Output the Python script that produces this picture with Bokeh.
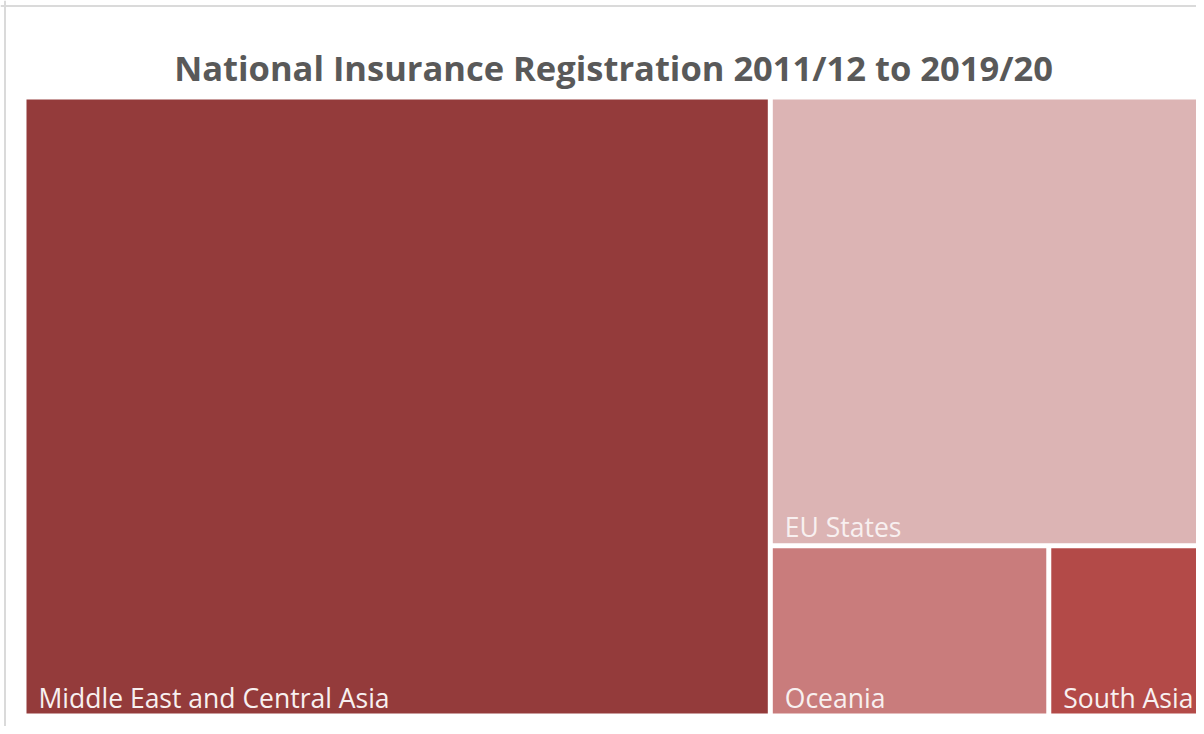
from bokeh.plotting import figure
from bokeh.models import Range1d, Span, ColumnDataSource
from bokeh.core.properties import value
from bokeh.embed import file_html
from bokeh.resources import INLINE

# ---- data ----
regions = ["Middle East and Central Asia", "EU States", "Oceania", "South Asia"]
registrations = [633, 266, 65, 36]
colors = ["#943B3B", "#DCB4B4", "#C97C7C", "#B34A48"]
title_text = "National Insurance Registration 2011/12 to 2019/20"

# ---- squarified treemap layout ----
def worst(row, w):
    s = sum(row)
    return max(max(w * w * r / (s * s), (s * s) / (w * w * r)) for r in row)

def layout_row(row, x, y, w, h):
    s = sum(row)
    rects = []
    if w >= h:  # vertical strip on the left
        sw = s / h
        yy = y
        for r in row:
            rh = r / sw
            rects.append((x, yy, sw, rh))
            yy += rh
        return rects, (x + sw, y, w - sw, h)
    else:  # horizontal strip on top
        sh = s / w
        xx = x
        for r in row:
            rw = r / sh
            rects.append((xx, y, rw, sh))
            xx += rw
        return rects, (x, y + sh, w, h - sh)

def squarify(vals, x, y, w, h):
    total = sum(vals)
    areas = [v * w * h / total for v in vals]
    rects = []
    rect = (x, y, w, h)
    i = 0
    row = []
    while i < len(areas):
        side = min(rect[2], rect[3])
        a = areas[i]
        if not row or worst(row + [a], side) <= worst(row, side):
            row.append(a)
            i += 1
        else:
            r, rect = layout_row(row, *rect)
            rects += r
            row = []
    if row:
        r, rect = layout_row(row, *rect)
        rects += r
    return rects

BX0, BY0, BX1, BY1 = 23.5, 96.5, 1202.5, 715.5
GAP = 2.5
tiles = squarify(registrations, BX0, BY0, BX1 - BX0, BY1 - BY0)

left = [t[0] + GAP for t in tiles]
right = [t[0] + t[2] - GAP for t in tiles]
top = [t[1] + GAP for t in tiles]
bottom = [t[1] + t[3] - GAP for t in tiles]

src = ColumnDataSource(dict(left=left, right=right, top=top, bottom=bottom,
                            color=colors, name=regions,
                            lx=[l + 12 for l in left],
                            ly=[b - 16 for b in bottom]))

p = figure(width=1196, height=726, output_backend="svg", toolbar_location=None,
           x_range=Range1d(0, 1196), y_range=Range1d(726, 0),
           min_border=0, outline_line_color=None)
p.axis.visible = False
p.grid.visible = False
p.background_fill_color = "white"

p.quad(left="left", right="right", top="top", bottom="bottom", fill_color="color",
       line_color=None, source=src)

p.text(x="lx", y="ly", text="name", source=src, text_color="#F8F0F0",
       text_font=value("Open Sans"), text_font_size="26.5px",
       text_baseline="alphabetic", text_align="left")

p.text(x=[(BX0 + BX1) / 2], y=[67], text=[title_text], text_color="#595959",
       text_font=value("Open Sans"), text_font_size="34.5px", text_font_style="bold",
       text_baseline="alphabetic", text_align="center")

# chart frame border (top and left)
p.add_layout(Span(location=5.5, dimension="width", line_color="#DADADA", line_width=2))
p.add_layout(Span(location=4.5, dimension="height", line_color="#DADADA", line_width=2))

open("out.html", "w").write(file_html(p, INLINE))
